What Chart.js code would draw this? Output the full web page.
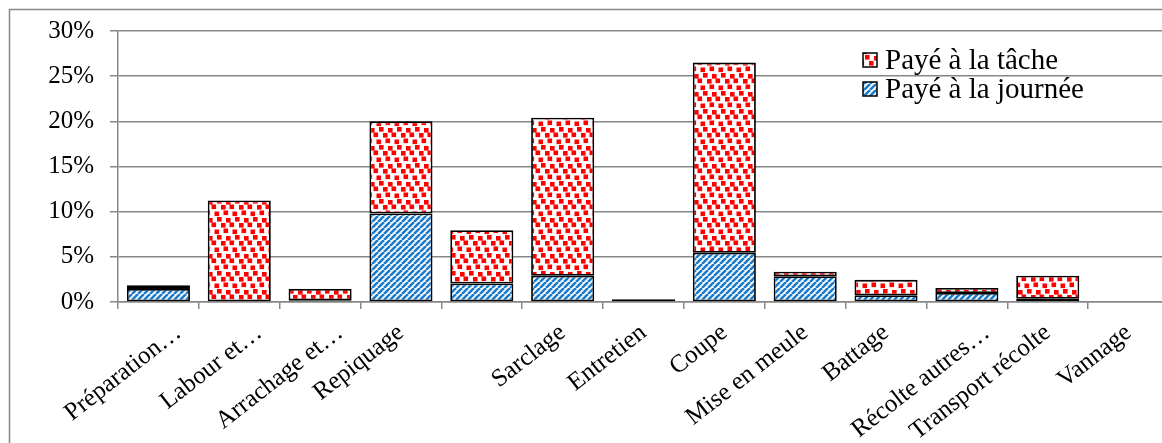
<!DOCTYPE html>
<html>
<head>
<meta charset="utf-8">
<script src="https://cdn.jsdelivr.net/npm/chart.js@4/dist/chart.umd.min.js"></script>
<style>
    html, body { margin: 0; padding: 0; background: #fff; overflow: hidden; }
    #chart { position: absolute; left: 0; top: 0; }
</style>
</head>
<body>
<canvas id="chart" width="1180" height="443"></canvas>
<script>
const categories = ['Préparation…', 'Labour et…', 'Arrachage et…', 'Repiquage', '', 'Sarclage', 'Entretien',
    'Coupe', 'Mise en meule', 'Battage', 'Récolte autres…', 'Transport récolte', 'Vannage'];
const payeJournee = [1.45, 0, 0.2, 9.8, 2.05, 2.9, 0, 5.45, 2.85, 0.75, 1.0, 0.35, 0];
const payeTache = [0.4, 11.25, 1.25, 10.2, 5.9, 17.5, 0.3, 21.05, 0.5, 1.7, 0.55, 2.55, 0];
const yTicks = [0, 5, 10, 15, 20, 25, 30];

const FONT = "'Liberation Serif', 'Times New Roman', serif";
const GRID = '#878787';

// blue diagonal hatch
function stripePattern() {
    const s = 6;
    const c = document.createElement('canvas');
    c.width = s; c.height = s;
    const g = c.getContext('2d');
    g.fillStyle = '#fff';
    g.fillRect(0, 0, s, s);
    g.strokeStyle = '#1b7bcc';
    g.lineWidth = 2.6;
    [-s, 0, s].forEach(k => {
        g.beginPath();
        g.moveTo(k, s);
        g.lineTo(k + s, 0);
        g.stroke();
    });
    return g.createPattern(c, 'repeat');
}

// red confetti squares
function dotPattern() {
    const s = 18;
    const c = document.createElement('canvas');
    c.width = s; c.height = s;
    const g = c.getContext('2d');
    g.fillStyle = '#fff';
    g.fillRect(0, 0, s, s);
    g.fillStyle = '#f00';
    [[1, 1], [10, 2], [5, 7], [13.5, 6.5], [7.5, 12.5], [16.5, 13.5]].forEach(p => {
        [0, -s].forEach(dx => {
            [0, -s].forEach(dy => g.fillRect(p[0] + dx, p[1] + dy, 4.6, 4.6));
        });
    });
    return g.createPattern(c, 'repeat');
}

const bluePat = stripePattern();
const redPat = dotPattern();

const frame = {
    id: 'frame',
    beforeDraw(chart) {
        const ctx = chart.ctx;
        ctx.save();
        ctx.strokeStyle = GRID;
        ctx.lineWidth = 1.5;
        ctx.strokeRect(9.5, 9.5, chart.width + 40, chart.height + 40);
        ctx.restore();
    }
};

// Excel pushes the truncated ("…") labels a bit past the tick
const shiftTruncated = {
    id: 'shiftTruncated',
    beforeDraw(chart) {
        chart.scales.x.getLabelItems().forEach(it => {
            if (!it.shifted && String(it.label).endsWith('…')) {
                it.options.translation[0] += 20;
                it.shifted = true;
            }
        });
    }
};

const legendBox = {
    id: 'legendBox',
    afterDraw(chart) {
        const ctx = chart.ctx;
        const items = [
            { text: chart.data.datasets[1].label, fill: redPat, y: 53, base: 69 },
            { text: chart.data.datasets[0].label, fill: bluePat, y: 82, base: 98 }
        ];
        ctx.save();
        items.forEach(it => {
            ctx.fillStyle = it.fill;
            ctx.fillRect(863, it.y, 14, 14);
            ctx.strokeStyle = '#000';
            ctx.lineWidth = 1.5;
            ctx.strokeRect(863, it.y, 14, 14);
            ctx.fillStyle = '#000';
            ctx.font = '29px ' + FONT;
            ctx.textBaseline = 'alphabetic';
            ctx.fillText(it.text, 885, it.base);
        });
        ctx.restore();
    }
};

new Chart(document.getElementById('chart'), {
    type: 'bar',
    data: {
        labels: categories,
        datasets: [
            {
                label: 'Payé à la journée',
                data: payeJournee,
                backgroundColor: bluePat,
                borderColor: '#000',
                borderWidth: 1.8,
                borderSkipped: false
            },
            {
                label: 'Payé à la tâche',
                data: payeTache,
                backgroundColor: redPat,
                borderColor: '#000',
                borderWidth: 1.8,
                borderSkipped: false
            }
        ]
    },
    options: {
        responsive: false,
        devicePixelRatio: 1,
        animation: false,
        layout: { padding: { left: 0, top: 30, right: 11, bottom: 0 } },
        datasets: { bar: { categoryPercentage: 1, barPercentage: 0.78 } },
        plugins: {
            legend: { display: false },
            tooltip: { enabled: false }
        },
        scales: {
            x: {
                stacked: true,
                grid: { display: true, drawOnChartArea: false, offset: true, tickLength: 7, color: GRID, lineWidth: 1.5 },
                border: { color: GRID, width: 1.5 },
                ticks: {
                    autoSkip: false,
                    minRotation: 38,
                    maxRotation: 38,
                    padding: 9,
                    color: '#000',
                    font: { family: FONT, size: 25 }
                },
                afterFit(scale) { scale.height = 141; }
            },
            y: {
                stacked: true,
                min: 0,
                max: 30,
                afterBuildTicks(scale) { scale.ticks = yTicks.map(v => ({ value: v })); },
                grid: { color: GRID, lineWidth: 1.5, tickLength: 8 },
                border: { color: GRID, width: 1.5 },
                ticks: {
                    padding: 16,
                    color: '#000',
                    font: { family: FONT, size: 25 },
                    callback: v => v + '%'
                },
                afterFit(scale) { scale.width = 118; }
            }
        }
    },
    plugins: [frame, shiftTruncated, legendBox]
});
</script>
</body>
</html>
